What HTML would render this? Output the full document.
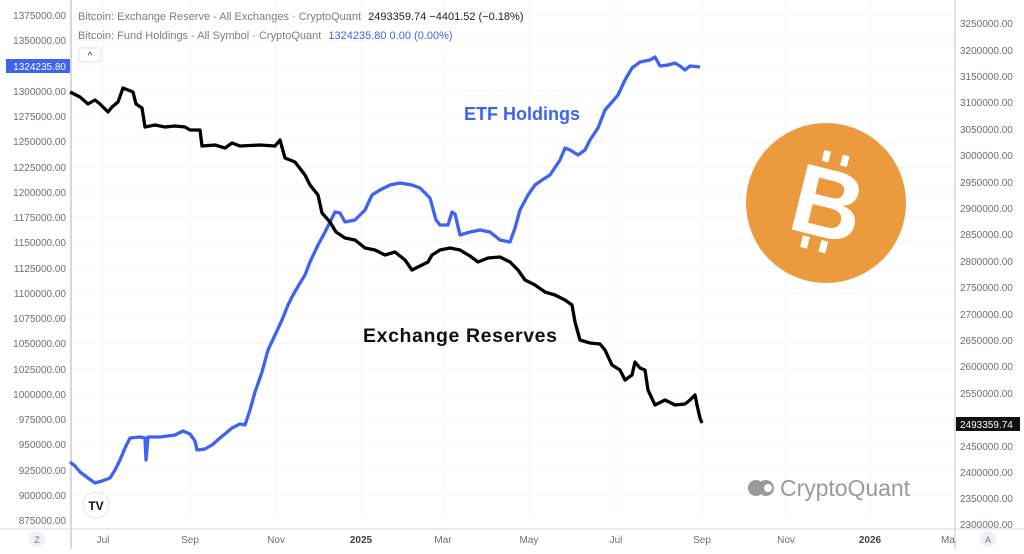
<!DOCTYPE html>
<html><head><style>
body{margin:0;background:#fff;font-family:"Liberation Sans",sans-serif;}
</style></head><body>
<svg width="1024" height="549" xmlns="http://www.w3.org/2000/svg" font-family="Liberation Sans, sans-serif">
<rect width="1024" height="549" fill="#fff"/>
<g stroke="#f4f5f7" stroke-width="1">
<line x1="103" y1="0" x2="103" y2="515"/><line x1="190" y1="0" x2="190" y2="515"/><line x1="276" y1="0" x2="276" y2="515"/><line x1="361" y1="0" x2="361" y2="515"/><line x1="443" y1="0" x2="443" y2="515"/><line x1="529" y1="0" x2="529" y2="515"/><line x1="616" y1="0" x2="616" y2="515"/><line x1="702" y1="0" x2="702" y2="515"/><line x1="786" y1="0" x2="786" y2="515"/><line x1="870" y1="0" x2="870" y2="515"/>
<line x1="72" y1="15" x2="955" y2="15"/><line x1="72" y1="40" x2="955" y2="40"/><line x1="72" y1="66" x2="955" y2="66"/><line x1="72" y1="91" x2="955" y2="91"/><line x1="72" y1="116" x2="955" y2="116"/><line x1="72" y1="141" x2="955" y2="141"/><line x1="72" y1="167" x2="955" y2="167"/><line x1="72" y1="192" x2="955" y2="192"/><line x1="72" y1="217" x2="955" y2="217"/><line x1="72" y1="242" x2="955" y2="242"/><line x1="72" y1="268" x2="955" y2="268"/><line x1="72" y1="293" x2="955" y2="293"/><line x1="72" y1="318" x2="955" y2="318"/><line x1="72" y1="343" x2="955" y2="343"/><line x1="72" y1="369" x2="955" y2="369"/><line x1="72" y1="394" x2="955" y2="394"/><line x1="72" y1="419" x2="955" y2="419"/><line x1="72" y1="444" x2="955" y2="444"/><line x1="72" y1="470" x2="955" y2="470"/><line x1="72" y1="495" x2="955" y2="495"/>
</g>
<line x1="71" y1="0" x2="71" y2="549" stroke="#d8d8dc" stroke-width="2"/>
<line x1="955" y1="0" x2="955" y2="549" stroke="#d8d8dc" stroke-width="1.5"/>
<line x1="0" y1="529" x2="1024" y2="529" stroke="#d8d8dc"/>
<g font-size="10" fill="#6b6f78" text-anchor="end">
<text x="66" y="19">1375000.00</text><text x="66" y="44">1350000.00</text><text x="66" y="95">1300000.00</text><text x="66" y="120">1275000.00</text><text x="66" y="145">1250000.00</text><text x="66" y="171">1225000.00</text><text x="66" y="196">1200000.00</text><text x="66" y="221">1175000.00</text><text x="66" y="246">1150000.00</text><text x="66" y="272">1125000.00</text><text x="66" y="297">1100000.00</text><text x="66" y="322">1075000.00</text><text x="66" y="347">1050000.00</text><text x="66" y="373">1025000.00</text><text x="66" y="398">1000000.00</text><text x="66" y="423">975000.00</text><text x="66" y="448">950000.00</text><text x="66" y="474">925000.00</text><text x="66" y="499">900000.00</text><text x="66" y="524">875000.00</text>
</g>
<rect x="6" y="59" width="64" height="14" fill="#3d63f0"/>
<text x="66" y="70" font-size="10" fill="#fff" text-anchor="end">1324235.80</text>
<g font-size="10" fill="#6b6f78">
<text x="960" y="27">3250000.00</text><text x="960" y="54">3200000.00</text><text x="960" y="80">3150000.00</text><text x="960" y="106">3100000.00</text><text x="960" y="133">3050000.00</text><text x="960" y="159">3000000.00</text><text x="960" y="186">2950000.00</text><text x="960" y="212">2900000.00</text><text x="960" y="238">2850000.00</text><text x="960" y="265">2800000.00</text><text x="960" y="291">2750000.00</text><text x="960" y="318">2700000.00</text><text x="960" y="344">2650000.00</text><text x="960" y="370">2600000.00</text><text x="960" y="397">2550000.00</text><text x="960" y="450">2450000.00</text><text x="960" y="476">2400000.00</text><text x="960" y="502">2350000.00</text><text x="960" y="528">2300000.00</text>
</g>
<rect x="956" y="417" width="64" height="14" fill="#111"/>
<text x="960" y="428" font-size="10" fill="#fff">2493359.74</text>
<g font-size="10" fill="#6b6f78" text-anchor="middle">
<text x="103" y="543">Jul</text><text x="190" y="543">Sep</text><text x="276" y="543">Nov</text><text x="361" y="543" font-weight="bold" fill="#444">2025</text><text x="443" y="543">Mar</text><text x="529" y="543">May</text><text x="616" y="543">Jul</text><text x="702" y="543">Sep</text><text x="786" y="543">Nov</text><text x="870" y="543" font-weight="bold" fill="#444">2026</text><text x="948" y="543">Ma</text>
</g>
<circle cx="37" cy="539" r="8" fill="#eef0f3"/><text x="37" y="543" font-size="9" fill="#777" text-anchor="middle">Z</text>
<circle cx="988" cy="539" r="8" fill="#eef0f3"/><text x="988" y="543" font-size="9" fill="#777" text-anchor="middle">A</text>
<text x="78" y="20" font-size="11" fill="#7a7e87">Bitcoin: Exchange Reserve - All Exchanges · CryptoQuant <tspan fill="#222" dx="4">2493359.74  −4401.52 (−0.18%)</tspan></text>
<text x="78" y="39" font-size="11" fill="#7a7e87">Bitcoin: Fund Holdings - All Symbol · CryptoQuant <tspan fill="#3d63f0" dx="4">1324235.80  0.00 (0.00%)</tspan></text>
<rect x="79" y="48" width="22" height="14" rx="2" fill="#fff" stroke="#e0e2e6"/>
<text x="90" y="59" font-size="10" fill="#333" text-anchor="middle">^</text>
<circle cx="96" cy="505" r="13" fill="#fff" stroke="#e3e3e3"/>
<text x="96" y="510" font-size="12" font-weight="bold" fill="#111" text-anchor="middle">TV</text>
<polyline fill="none" stroke="#3d63f0" stroke-width="3.3" stroke-linejoin="round" points="70,462 75,466 80,472 88,478 95,483 102,481 110,478 115,470 120,460 125,448 130,438 140,437 145,438 146,460 148,437 160,437 175,435 183,431 190,434 195,441 197,450 205,449 212,445 220,438 232,428 240,424 245,425 250,410 255,392 262,372 268,350 275,335 282,320 288,305 293,295 300,283 305,275 310,262 318,245 325,232 330,222 335,212 340,213 345,222 355,220 365,210 372,195 380,190 390,185 400,183 412,185 420,188 430,198 436,220 440,225 448,225 452,212 455,214 460,235 470,232 480,230 490,232 500,240 510,242 515,228 520,210 528,195 535,185 542,180 550,175 560,160 565,148 570,150 578,155 585,150 590,140 598,128 605,110 612,102 618,95 625,80 632,68 640,62 650,60 655,57 660,66 668,65 675,63 680,66 685,70 690,66 700,67"/>
<polyline fill="none" stroke="#000" stroke-width="3.3" stroke-linejoin="round" points="70,92 80,97 88,104 95,100 100,104 108,112 112,107 118,102 123,88 128,90 133,92 136,104 142,108 145,127 155,125 165,127 175,126 185,127 190,130 200,130 202,146 215,145 225,148 232,143 240,146 260,145 275,146 280,140 285,158 295,162 305,175 310,185 318,195 322,213 330,222 336,232 345,238 355,240 365,248 375,250 385,255 395,252 405,260 412,270 420,266 428,262 432,255 440,250 450,248 460,250 470,256 478,262 488,258 500,257 510,262 518,270 525,280 535,285 545,292 555,295 565,300 572,305 575,322 580,340 590,343 600,344 605,350 612,365 620,370 625,380 632,375 635,362 640,368 645,370 648,390 655,405 665,400 675,405 685,404 690,400 695,395 697,405 700,418 702,423"/>
<text x="464" y="120" font-size="18" font-weight="bold" fill="#3d63f0">ETF Holdings</text>
<text x="363" y="342" font-size="19.5" font-weight="bold" fill="#111" textLength="194">Exchange Reserves</text>
<circle cx="826" cy="203" r="80" fill="#ec9a3e"/>
<text x="828" y="237" font-size="98" font-weight="bold" fill="#fff" text-anchor="middle" transform="rotate(14 826 203)">B</text>
<g stroke="#fff" stroke-width="7" transform="rotate(14 826 203)"><line x1="815" y1="152" x2="815" y2="163"/><line x1="834" y1="152" x2="834" y2="163"/><line x1="815" y1="240" x2="815" y2="252"/><line x1="834" y1="240" x2="834" y2="252"/></g>
<circle cx="756" cy="488" r="8" fill="#9a9a9a"/>
<circle cx="766" cy="488" r="8" fill="#9a9a9a"/><circle cx="768" cy="488" r="4" fill="#fff"/>
<text x="780" y="496" font-size="23" fill="#9a9a9a" textLength="130">CryptoQuant</text>
</svg>
</body></html>
